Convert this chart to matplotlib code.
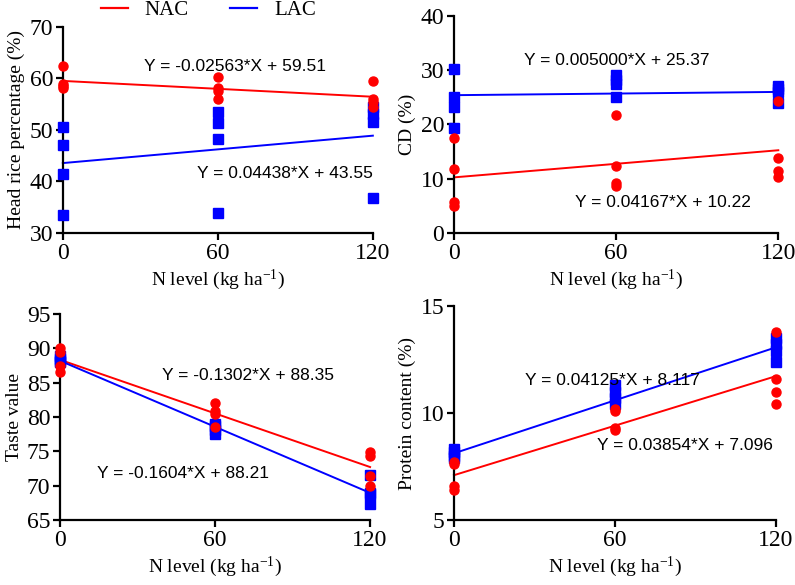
import matplotlib
matplotlib.use("Agg")
import matplotlib.pyplot as plt
from matplotlib.lines import Line2D

# ==== データ ====
x_levels = [0, 60, 120]

# Head rice percentage (%)
hr_nac = [[62.4, 59.0, 58.5, 58.1], [60.2, 58.1, 57.6, 56.0], [59.5, 56.0, 55.5, 54.4]]
hr_lac = [[50.6, 47.1, 41.5, 33.5], [53.4, 51.4, 48.2, 33.9], [54.4, 53.1, 51.5, 36.8]]
hr_fit = {"NAC": (-0.02563, 59.51), "LAC": (0.04438, 43.55)}

# CD (%)
cd_nac = [[17.5, 11.8, 5.7, 5.0], [21.8, 12.4, 9.1, 8.7], [24.3, 13.7, 11.4, 10.2]]
cd_lac = [[30.2, 25.0, 23.1, 19.3], [29.0, 28.2, 27.4, 25.0], [27.0, 26.5, 26.0, 24.0]]
cd_fit = {"NAC": (0.04167, 10.22), "LAC": (0.005000, 25.37)}

# Taste value
tv_nac = [[90.0, 89.5, 87.4, 86.6], [82.0, 80.9, 80.4, 78.5], [74.9, 74.4, 71.4, 69.9]]
tv_lac = [[88.9, 88.5, 88.2, 88.0], [79.0, 78.7, 78.1, 77.5], [71.5, 69.0, 68.8, 67.4]]
tv_fit = {"NAC": (-0.1302, 88.35), "LAC": (-0.1604, 88.21)}

# Protein content (%)
pc_nac = [[7.7, 7.6, 6.6, 6.4], [10.2, 10.1, 9.3, 9.2], [13.8, 11.6, 11.0, 10.4]]
pc_lac = [[8.3, 8.2, 8.0, 7.9], [11.3, 11.0, 10.7, 10.4], [13.5, 13.2, 12.9, 12.4]]
pc_fit = {"NAC": (0.03854, 7.096), "LAC": (0.04125, 8.117)}

RED = "#ff0000"
BLUE = "#0000ff"
SERIF = "Liberation Serif"
SANS = "Liberation Sans"

plt.rcParams["mathtext.fontset"] = "custom"
plt.rcParams["mathtext.rm"] = SERIF
plt.rcParams["mathtext.it"] = SERIF

fig = plt.figure(figsize=(7.95, 5.85), dpi=100)


def panel(rect, nac, lac, fits, ylim, yticks, ylabel, texts):
    ax = fig.add_axes(rect)
    for i, x in enumerate(x_levels):
        ax.plot([x] * len(lac[i]), lac[i], "s", color=BLUE, ms=6.5, clip_on=False, zorder=3)
        ax.plot([x] * len(nac[i]), nac[i], "o", color=RED, ms=6.5, clip_on=False, zorder=4)
    for name, col in (("NAC", RED), ("LAC", BLUE)):
        k, b = fits[name]
        ax.plot([0, 120], [b, k * 120 + b], color=col, lw=1.4, clip_on=False, zorder=2)
    ax.set_xlim(0, 120)
    ax.set_ylim(*ylim)
    ax.set_xticks(x_levels)
    ax.set_yticks(yticks)
    for s in ("top", "right"):
        ax.spines[s].set_visible(False)
    for s in ("left", "bottom"):
        ax.spines[s].set_linewidth(1.6)
    ax.tick_params(width=1.6, length=5, labelsize=17, direction="out", pad=2)
    for lab in ax.get_xticklabels() + ax.get_yticklabels():
        lab.set_fontfamily(SERIF)
    ax.set_xlabel("N level (kg ha$^{-1}$)", fontsize=14, family=SERIF, labelpad=3)
    ax.set_ylabel(ylabel, fontsize=14, family=SERIF, labelpad=3)
    for (tx, ty, t) in texts:
        ax.text(tx, ty, t, ha="center", va="center", fontsize=12.5, family=SANS)
    return ax


panel([0.079, 0.602, 0.390, 0.352], hr_nac, hr_lac, hr_fit, (30, 70), [30, 40, 50, 60, 70],
      "Head rice percentage (%)",
      [(66.6, 62.3, "Y = -0.02563*X + 59.51"), (86, 41.6, "Y = 0.04438*X + 43.55")])
panel([0.571, 0.602, 0.408, 0.371], cd_nac, cd_lac, cd_fit, (0, 40), [0, 10, 20, 30, 40],
      "CD (%)",
      [(60.4, 31.7, "Y = 0.005000*X + 25.37"), (77.4, 5.5, "Y = 0.04167*X + 10.22")])
panel([0.0755, 0.111, 0.390, 0.352], tv_nac, tv_lac, tv_fit, (65, 95), [65, 70, 75, 80, 85, 90, 95],
      "Taste value",
      [(72.8, 86.1, "Y = -0.1302*X + 88.35"), (47.6, 71.8, "Y = -0.1604*X + 88.21")])
panel([0.571, 0.111, 0.405, 0.366], pc_nac, pc_lac, pc_fit, (5, 15), [5, 10, 15],
      "Protein content (%)",
      [(58.9, 11.5, "Y = 0.04125*X + 8.117"), (86, 8.5, "Y = 0.03854*X + 7.096")])

# ==== 凡例 ====
handles = [Line2D([], [], color=RED, lw=1.6), Line2D([], [], color=BLUE, lw=1.6)]
fig.legend(handles, ["NAC", "LAC"], loc="center", bbox_to_anchor=(0.262, 0.982), ncol=2,
           frameon=False, prop={"family": SERIF, "size": 15}, handlelength=1.3,
           columnspacing=2.0, handletextpad=0.8)

fig.savefig("out.png", dpi=100)
